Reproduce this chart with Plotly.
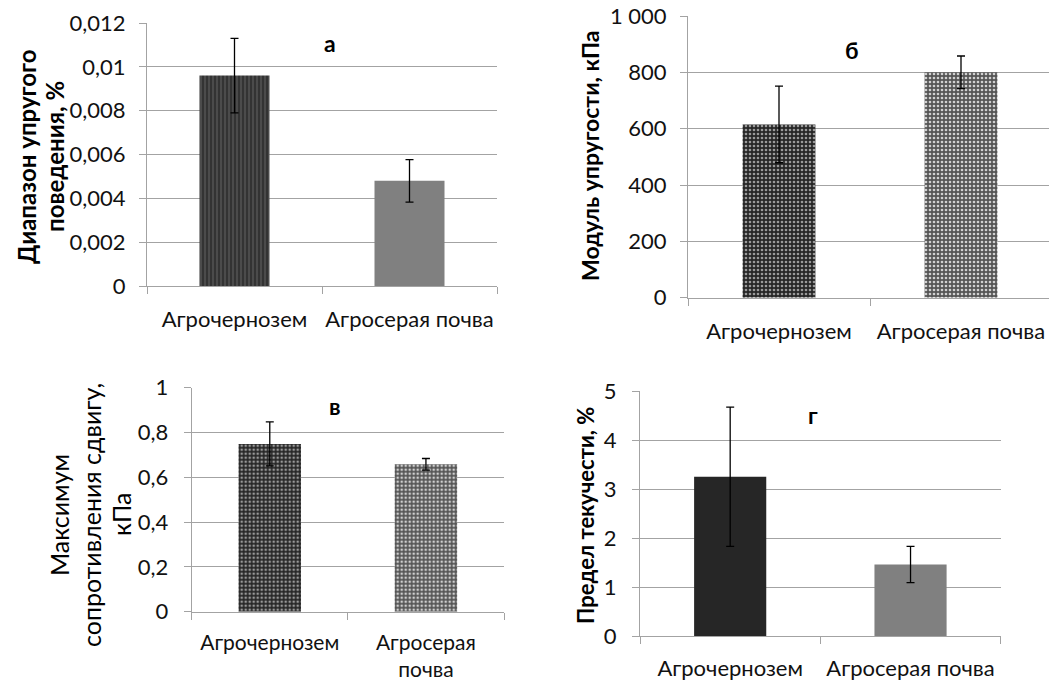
import plotly.graph_objects as go

W, H = 1049, 682

categories_a = ["Агрочернозем", "Агросерая почва"]
values_a = [0.0096, 0.0048]
errors_a = [0.0017, 0.00097]

categories_b = ["Агрочернозем", "Агросерая почва"]
values_b = [615, 800]
errors_b = [136, 58]

categories_v = ["Агрочернозем", "Агросерая<br>почва"]
values_v = [0.749, 0.658]
errors_v = [0.098, 0.026]

categories_g = ["Агрочернозем", "Агросерая почва"]
values_g = [3.25, 1.46]
errors_g = [1.42, 0.37]

FONT = "Lato"
GRID = "#a3a3a3"
TICK_SIZE = 22
CAT_SIZE = 22


def px_x(p):
    return p / W


def px_y(p):
    return 1 - p / H


fig = go.Figure()

panels = [
    (categories_a, values_a, errors_a, "", ["#3d3d3d", "#808080"], [("|", "#555555", "#333333"), ("", None, None)]),
    (categories_b, values_b, errors_b, "2", ["#333333", "#7a7a7a"], [(".", "#9a9a9a", "#262626"), (".", "#d0d0d0", "#555555")]),
    (categories_v, values_v, errors_v, "3", ["#333333", "#7a7a7a"], [(".", "#9a9a9a", "#262626"), (".", "#d0d0d0", "#555555")]),
    (categories_g, values_g, errors_g, "4", ["#262626", "#808080"], [("", None, None), ("", None, None)]),
]

for cats, vals, errs, sfx, colors, pats in panels:
    for i in range(len(cats)):
        shape, fg, bg = pats[i]
        marker = dict(color=colors[i], line=dict(width=0))
        if shape:
            marker["pattern"] = dict(shape=shape, fgcolor=fg, bgcolor=bg, size=4, solidity=0.35, fillmode="replace")
        fig.add_trace(go.Bar(
            x=[cats[i]], y=[vals[i]],
            error_y=dict(type="data", array=[errs[i]], color="black", thickness=1.3, width=4),
            marker=marker, width=0.4,
            xaxis="x" + sfx, yaxis="y" + sfx, showlegend=False,
        ))

xbase = dict(type="category", showgrid=False, showline=True, linecolor=GRID, linewidth=1,
             ticks="outside", tickson="boundaries", ticklen=7, tickcolor=GRID, automargin=False,
             tickangle=0,
             tickfont=dict(family=FONT, size=CAT_SIZE, color="#111111"), fixedrange=True)
ybase = dict(showgrid=True, gridcolor=GRID, gridwidth=1, showline=True, linecolor=GRID, linewidth=1,
             ticks="outside", ticklen=7, tickcolor=GRID, zeroline=False, automargin=False,
             tickfont=dict(family=FONT, size=TICK_SIZE, color="#111111"), fixedrange=True)

layout = dict(
    width=W, height=H, margin=dict(l=0, r=0, t=0, b=0, autoexpand=False),
    paper_bgcolor="white", plot_bgcolor="white", separators=", ",
    bargap=0.6,
)

layout["xaxis"] = dict(xbase, domain=[px_x(147), px_x(497)], anchor="y", range=[-0.5, 1.5], ticklabelstandoff=14)
layout["yaxis"] = dict(ybase, domain=[px_y(286), px_y(23)], anchor="x", range=[0, 0.012], dtick=0.002, ticklabelstandoff=9)
layout["xaxis2"] = dict(xbase, domain=[px_x(688), 1.0], anchor="y2", range=[-0.5, 1.5 - 3 / 182], ticklabelstandoff=14)
layout["yaxis2"] = dict(ybase, domain=[px_y(297.7), px_y(16)], anchor="x2", range=[0, 1000], dtick=200,
                        separatethousands=True, ticklabelstandoff=9)
layout["xaxis3"] = dict(xbase, domain=[px_x(191.7), px_x(504)], anchor="y3", range=[-0.5, 1.5], ticklabelstandoff=12,
                        tickfont=dict(family=FONT, size=21, color="#111111"))
layout["yaxis3"] = dict(ybase, domain=[px_y(611.7), px_y(387.7)], anchor="x3", range=[0, 1], dtick=0.2, ticklabelstandoff=11)
layout["xaxis4"] = dict(xbase, domain=[px_x(640), px_x(1000.7)], anchor="y4", range=[-0.5, 1.5], ticklabelstandoff=13)
layout["yaxis4"] = dict(ybase, domain=[px_y(636), px_y(391)], anchor="x4", range=[0, 5], dtick=1, ticklabelstandoff=11)

fig.update_layout(**layout)

ann = []
for txt, x, y in [("а", 330, 43), ("б", 852, 50), ("в", 335, 406), ("г", 813, 415)]:
    ann.append(dict(text="<b>%s</b>" % txt, x=px_x(x), y=px_y(y), xref="paper", yref="paper",
                    showarrow=False, xanchor="center", yanchor="middle",
                    font=dict(family=FONT, size=23, color="black")))


def vtitle(text, x, y, size, bold=True):
    t = "<b>%s</b>" % text if bold else text
    ann.append(dict(text=t, x=px_x(x), y=px_y(y), xref="paper", yref="paper",
                    showarrow=False, textangle=-90, xanchor="center", yanchor="middle",
                    font=dict(family=FONT, size=size, color="black")))


vtitle("Диапазон упругого", 26, 157, 24)
vtitle("поведения, %", 54, 157, 24)
vtitle("Модуль упругости, кПа", 590, 156, 23)
vtitle("Максимум", 59, 515, 25, bold=False)
vtitle("сопротивления сдвигу,", 91, 515, 25, bold=False)
vtitle("кПа", 121, 515, 25, bold=False)
vtitle("Предел текучести, %", 585, 516, 22)
fig.update_layout(annotations=ann)

fig.write_html("out.html", config={"displayModeBar": False},
               post_script="document.body.style.margin='0';document.body.style.padding='0';")
